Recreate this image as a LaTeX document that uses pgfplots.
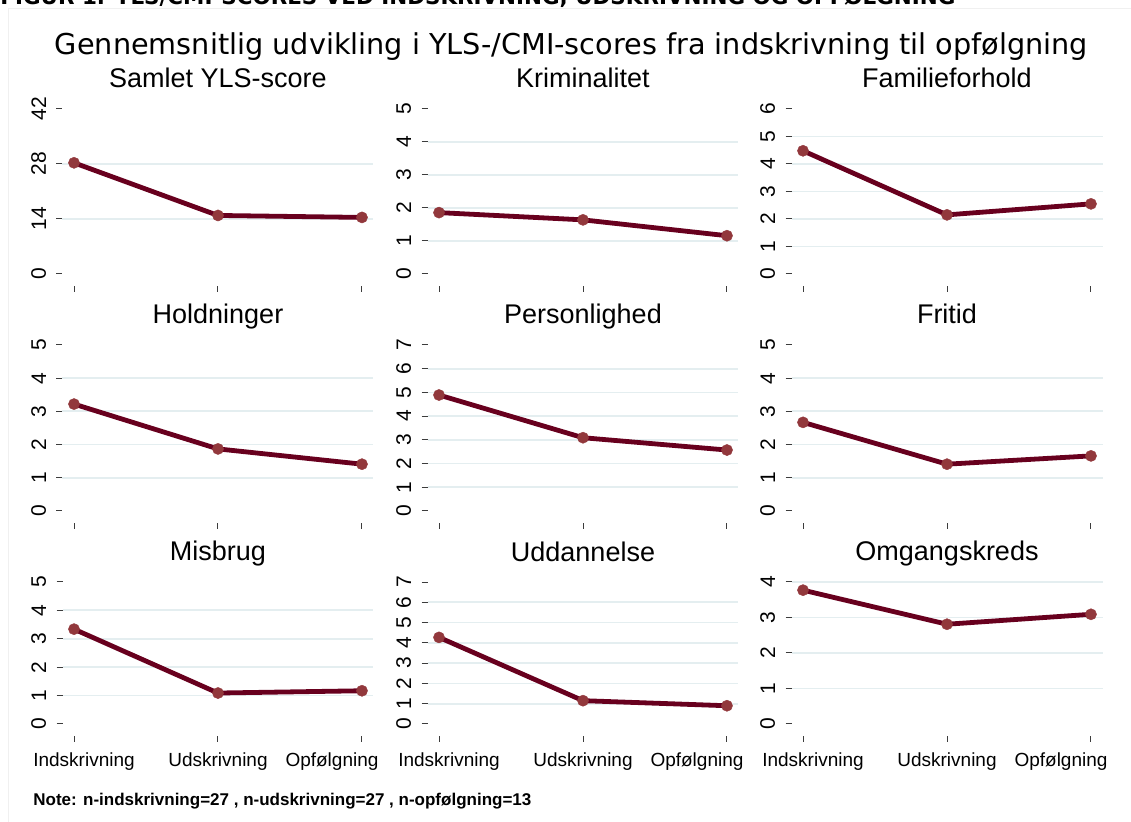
\documentclass[border=0pt]{standalone}
\usepackage{pgfplots}
\pgfplotsset{compat=1.18}
\usepackage{fontspec}
\setmainfont{Liberation Sans}
\newfontfamily\verd{DejaVu Sans}
\definecolor{linec}{RGB}{104,0,30}
\definecolor{markc}{RGB}{146,56,60}
\definecolor{gridc}{RGB}{228,238,240}
\definecolor{tickc}{RGB}{60,60,60}
\pgfplotsset{
 panel/.style={
   scale only axis, width=155.5pt,
   xmin=-0.08, xmax=2.08, xtick={0,1,2}, xticklabels={},
   axis x line*=bottom, axis y line*=left,
   axis line style={draw=none},
   tick align=outside, major tick length=3pt,
   tick style={tickc, line width=0.5pt},
   minor tick num=0,
   /pgf/number format/assume math mode=true,
   xticklabel style={font=\fontsize{9.5}{11}\selectfont, inner sep=0pt, inner ysep=5pt},
   yticklabel style={font=\fontsize{10.5}{12}\selectfont, rotate=90, anchor=south, inner sep=0pt, inner ysep=5pt},
   extra y tick style={grid=major},
   major grid style={gridc, line width=0.9pt},
   every axis title/.style={at={(0.5,1)}, anchor=base, yshift=4.5pt, font=\fontsize{13.5}{15}\selectfont, inner sep=0pt},
   clip=false,
 },
 serie/.style={line width=2.4pt, color=linec, mark=*, mark size=2.8pt, mark options={fill=markc, draw=markc, line width=0.2pt}},
 botlab/.style={xticklabels={\hspace*{10pt}Indskrivning, Udskrivning, Opfølgning\hspace*{30pt}}},
}
\begin{document}
\begin{tikzpicture}
\useasboundingbox (0,0) rectangle (565.5pt,-411pt);
\draw[black!6, line width=0.5pt] (4pt,-411pt) -- (4pt,-4.5pt) -- (566pt,-4.5pt);
\node[anchor=base west, inner sep=0pt] at (0pt,-2.25pt) {\resizebox{477.5pt}{!}{\verd\bfseries FIGUR 1. YLS/CMI-SCORES VED INDSKRIVNING, UDSKRIVNING OG OPFØLGNING}};
\node[anchor=base, inner sep=0pt] at (285.75pt,-27.5pt) {\resizebox{516.5pt}{!}{\verd Gennemsnitlig udvikling i YLS-/CMI-scores fra indskrivning til opfølgning}};

% Row 1
\begin{axis}[panel, at={(31.25pt,-143pt)}, anchor=south west, height=94.5pt,
  ymin=-3.055, ymax=45.055, ytick={0,42}, extra y ticks={14,28}, title={Samlet YLS-score}]
\addplot[serie] coordinates {(0,28.3) (1,14.9) (2,14.4)};
\end{axis}
\begin{axis}[panel, at={(213.75pt,-143pt)}, anchor=south west, height=94.5pt,
  ymin=-0.3636, ymax=5.3636, ytick={0,5}, extra y ticks={1,2,3,4}, title={Kriminalitet}]
\addplot[serie] coordinates {(0,1.86) (1,1.64) (2,1.16)};
\end{axis}
\begin{axis}[panel, at={(395.75pt,-143pt)}, anchor=south west, height=94.5pt,
  ymin=-0.4364, ymax=6.4364, ytick={0,6}, extra y ticks={1,2,3,4,5}, title={Familieforhold}]
\addplot[serie] coordinates {(0,4.48) (1,2.15) (2,2.55)};
\end{axis}

% Row 2
\begin{axis}[panel, at={(31.25pt,-261.5pt)}, anchor=south west, height=95pt,
  ymin=-0.3614, ymax=5.3614, ytick={0,5}, extra y ticks={1,2,3,4}, title={Holdninger}]
\addplot[serie] coordinates {(0,3.22) (1,1.87) (2,1.41)};
\end{axis}
\begin{axis}[panel, at={(213.75pt,-261.5pt)}, anchor=south west, height=95pt,
  ymin=-0.506, ymax=7.506, ytick={0,7}, extra y ticks={1,2,3,4,5,6}, title={Personlighed}]
\addplot[serie] coordinates {(0,4.89) (1,3.09) (2,2.57)};
\end{axis}
\begin{axis}[panel, at={(395.75pt,-261.5pt)}, anchor=south west, height=95pt,
  ymin=-0.3614, ymax=5.3614, ytick={0,5}, extra y ticks={1,2,3,4}, title={Fritid}]
\addplot[serie] coordinates {(0,2.67) (1,1.41) (2,1.66)};
\end{axis}

% Row 3
\begin{axis}[panel, botlab, at={(31.25pt,-368pt)}, anchor=south west, height=83pt,
  ymin=-0.4225, ymax=5.4225, ytick={0,5}, extra y ticks={1,2,3,4}, title={Misbrug}]
\addplot[serie] coordinates {(0,3.34) (1,1.09) (2,1.17)};
\end{axis}
\begin{axis}[panel, botlab, at={(213.75pt,-368pt)}, anchor=south west, height=83pt,
  ymin=-0.5915, ymax=7.5915, ytick={0,7}, extra y ticks={1,2,3,4,5,6}, title={Uddannelse}]
\addplot[serie] coordinates {(0,4.27) (1,1.15) (2,0.90)};
\end{axis}
\begin{axis}[panel, botlab, at={(395.75pt,-368pt)}, anchor=south west, height=83pt,
  ymin=-0.338, ymax=4.338, ytick={0}, extra y ticks={1,2,3,4}, title={Omgangskreds}]
\addplot[serie] coordinates {(0,3.77) (1,2.81) (2,3.09)};
\end{axis}

\node[anchor=base west, inner sep=0pt, font=\bfseries\fontsize{8.5}{10}\selectfont] at (16.5pt,-403pt) {Note: n-indskrivning=27 , n-udskrivning=27 , n-opfølgning=13};
\end{tikzpicture}
\end{document}
